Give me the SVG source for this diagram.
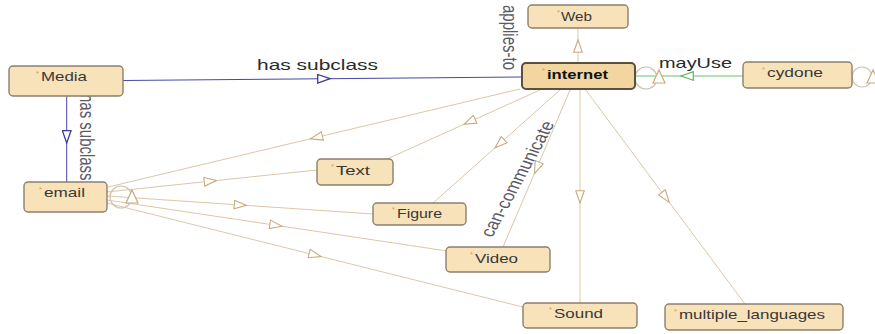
<svg xmlns="http://www.w3.org/2000/svg" width="875" height="334" viewBox="0 0 875 334">
<defs>
<style>
.bg{fill:#ffffff}
.node rect{fill:#f8e2ba;stroke:#8a806e;stroke-width:1.4}
#n-internet rect{fill:#f2d59f;stroke:#5a5040;stroke-width:2}
.lbl{font-family:"Liberation Sans",Arial,sans-serif;font-size:13px;fill:#383838}
.bold{font-weight:bold;fill:#111}
.ast{font-family:"Liberation Sans",Arial,sans-serif;font-size:8px;fill:#e8a040}
.e{fill:none;stroke-width:1}
.tan{stroke:#dcc7a8;marker-mid:url(#mTan)}
.blue{stroke:#4848a8;marker-mid:url(#mBlue)}
.green{stroke:#6cc06c;marker-mid:url(#mGreen)}
.loop{fill:none;stroke:#cfc2ae;stroke-width:1.2}
.ltri{fill:#ffffff;stroke:#c9aa7e;stroke-width:1.2}
.elbl{font-family:"Liberation Sans",Arial,sans-serif;font-size:15px;fill:#2a2a2a}
.glbl{font-family:"Liberation Sans",Arial,sans-serif;font-size:15px;fill:#5a5a66}
</style>
<marker id="mTan" viewBox="0 0 14 10" refX="13" refY="5" markerWidth="14" markerHeight="10" markerUnits="userSpaceOnUse" orient="auto">
<path d="M0.7,0.7 L13,5 L0.7,9.3 Z" fill="#ffffff" stroke="#c9aa7e" stroke-width="1.1"/>
</marker>
<marker id="mBlue" viewBox="0 0 14 10" refX="13" refY="5" markerWidth="14" markerHeight="10" markerUnits="userSpaceOnUse" orient="auto">
<path d="M0.7,0.7 L13,5 L0.7,9.3 Z" fill="#ffffff" stroke="#3a3aa0" stroke-width="1.3"/>
</marker>
<marker id="mGreen" viewBox="0 0 14 10" refX="13" refY="5" markerWidth="14" markerHeight="10" markerUnits="userSpaceOnUse" orient="auto">
<path d="M0.7,0.7 L13,5 L0.7,9.3 Z" fill="#ffffff" stroke="#5cb85c" stroke-width="1.2"/>
</marker>
</defs>
<rect class="bg" x="0" y="0" width="875" height="334"/>

<g id="connectors">
<polyline class="e tan" points="520,89 310.4,138.8 108,187"/>
<polyline class="e tan" points="540,90 464,124.3 387,159"/>
<polyline class="e tan" points="560,90 495,147.8 433,203"/>
<polyline class="e tan" points="570,90 534.4,173.6 503,247"/>
<polyline class="e tan" points="580,89 580,203 580,303"/>
<polyline class="e tan" points="585,89 669.2,202.2 745,304"/>
<polyline class="e tan" points="107,192 216.5,180.5 317,170"/>
<polyline class="e tan" points="107,196 246.5,205.4 373,214"/>
<polyline class="e tan" points="107,200 282,226.2 447,251"/>
<polyline class="e tan" points="107,203 321,256.5 523,307"/>
<polyline class="e tan" points="578,63 578,40 578,28"/>
<polyline class="e blue" points="123,80.5 330,78.7 522,77"/>
<polyline class="e blue" points="66.7,96 66.7,143 66.7,182"/>
<polyline class="e green" points="743,76 681,76 635,76"/>
<circle class="loop" cx="646" cy="78" r="11"/>
<polygon class="ltri" points="659,70 653,83 665,83"/>
<circle class="loop" cx="862" cy="77" r="10"/>
<polygon class="ltri" points="873,70 867,83 879,83"/>
<circle class="loop" cx="121" cy="197" r="11"/>
<polygon class="ltri" points="132,190 126,203 138,203"/>
<text class="elbl" x="257" y="70" textLength="121" lengthAdjust="spacingAndGlyphs">has subclass</text>
<text class="elbl" x="659" y="68" textLength="73" lengthAdjust="spacingAndGlyphs">mayUse</text>
<text class="glbl" transform="translate(80,94) scale(1.3,1) rotate(90)">has subclass</text>
<text class="glbl" transform="translate(503,5) scale(1.3,1) rotate(90)">applies-to</text>
<text class="glbl" font-size="16" transform="translate(492,238) scale(1.3,1) rotate(-67.1)" textLength="124" lengthAdjust="spacingAndGlyphs">can-communicate</text>
</g>

<g id="n-media" class="node">
<rect x="9" y="66" width="114" height="30" rx="4"/>
<text class="ast" x="36" y="76">*</text>
<text class="lbl" x="41" y="81" textLength="46" lengthAdjust="spacingAndGlyphs">Media</text>
</g>
<g id="n-email" class="node">
<rect x="24" y="182" width="83" height="30" rx="4"/>
<text class="ast" x="39" y="192">*</text>
<text class="lbl" x="44" y="196.5" textLength="41" lengthAdjust="spacingAndGlyphs">email</text>
</g>
<g id="n-web" class="node">
<rect x="528" y="5" width="100" height="23" rx="4"/>
<text class="ast" x="557" y="15">*</text>
<text class="lbl" x="561" y="21" textLength="31" lengthAdjust="spacingAndGlyphs">Web</text>
</g>
<g id="n-internet" class="node">
<rect x="522" y="63" width="113" height="26" rx="4"/>
<text class="ast" x="542" y="73">*</text>
<text class="lbl bold" x="547" y="79" textLength="61" lengthAdjust="spacingAndGlyphs">internet</text>
</g>
<g id="n-cyclone" class="node">
<rect x="743" y="62" width="109" height="26" rx="4"/>
<text class="ast" x="762" y="72">*</text>
<text class="lbl" x="767" y="76.5" textLength="56" lengthAdjust="spacingAndGlyphs">cydone</text>
</g>
<g id="n-text" class="node">
<rect x="317" y="159" width="76" height="26" rx="4"/>
<text class="ast" x="331" y="169">*</text>
<text class="lbl" x="336" y="174.5" textLength="34" lengthAdjust="spacingAndGlyphs">Text</text>
</g>
<g id="n-figure" class="node">
<rect x="373" y="203" width="93" height="22" rx="4"/>
<text class="ast" x="392" y="212">*</text>
<text class="lbl" x="397" y="217.5" textLength="45" lengthAdjust="spacingAndGlyphs">Figure</text>
</g>
<g id="n-video" class="node">
<rect x="446" y="247" width="104" height="25" rx="4"/>
<text class="ast" x="470" y="257">*</text>
<text class="lbl" x="475" y="262.5" textLength="43" lengthAdjust="spacingAndGlyphs">Video</text>
</g>
<g id="n-sound" class="node">
<rect x="523" y="303" width="114" height="25" rx="4"/>
<text class="ast" x="549" y="312">*</text>
<text class="lbl" x="554" y="317.5" textLength="49" lengthAdjust="spacingAndGlyphs">Sound</text>
</g>
<g id="n-multiple" class="node">
<rect x="665" y="304" width="178" height="26" rx="4"/>
<text class="ast" x="674" y="314">*</text>
<text class="lbl" x="679" y="318.5" textLength="146" lengthAdjust="spacingAndGlyphs">multiple_languages</text>
</g>
</svg>
